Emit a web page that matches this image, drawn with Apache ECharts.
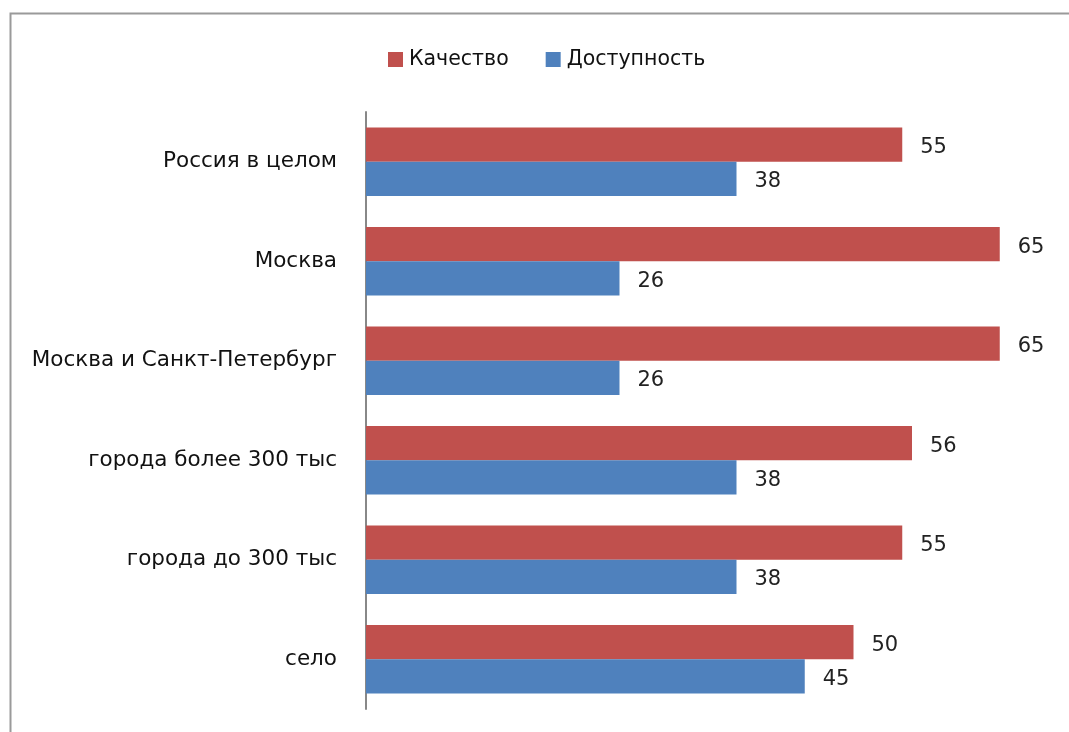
<!DOCTYPE html>
<html><head><meta charset="utf-8">
<script src="https://cdn.jsdelivr.net/npm/echarts@6/dist/echarts.min.js"></script>
<style>html,body{margin:0;padding:0;background:#fff}#c{width:1069px;height:732px}</style>
</head><body><div id="c"></div>
<script>
const categories = ['Россия в целом','Москва','Москва и Санкт-Петербург','города более 300 тыс','города до 300 тыс','село'];
const quality = [55,65,65,56,55,50];
const access = [38,26,26,38,38,45];
const seriesNames = ['Качество','Доступность'];
const FONT = '"DejaVu Sans",sans-serif';
const chart = echarts.init(document.getElementById('c'));
chart.setOption({
  animation:false,
  graphic:[{type:'rect',shape:{x:10.5,y:13.5,width:1100,height:800},style:{fill:'none',stroke:'#9a9a9a',lineWidth:2}}],
  legend:{top:44,left:383,itemWidth:15,itemHeight:15,itemGap:37,icon:'rect',
    textStyle:{fontFamily:FONT,fontSize:20.5,color:'#111',padding:[0,0,0,1]},data:seriesNames},
  grid:{left:366,top:112,width:682.5,height:597},
  xAxis:{type:'value',min:0,max:70,show:false,splitLine:{show:false}},
  yAxis:{type:'category',inverse:true,data:categories,
    axisLine:{lineStyle:{color:'#888',width:2}},axisTick:{show:false},
    axisLabel:{margin:29,fontFamily:FONT,fontSize:21.5,color:'#111',padding:[5,0,0,0]}},
  series:[
    {name:seriesNames[0],type:'bar',data:quality,barGap:'0%',barCategoryGap:'31%',
      itemStyle:{color:'#C0504D'},label:{show:true,position:'right',distance:18,offset:[0,3],fontFamily:FONT,fontSize:21,color:'#222'}},
    {name:seriesNames[1],type:'bar',data:access,
      itemStyle:{color:'#4F81BD'},label:{show:true,position:'right',distance:18,offset:[0,3],fontFamily:FONT,fontSize:21,color:'#222'}}
  ]
});
</script></body></html>
